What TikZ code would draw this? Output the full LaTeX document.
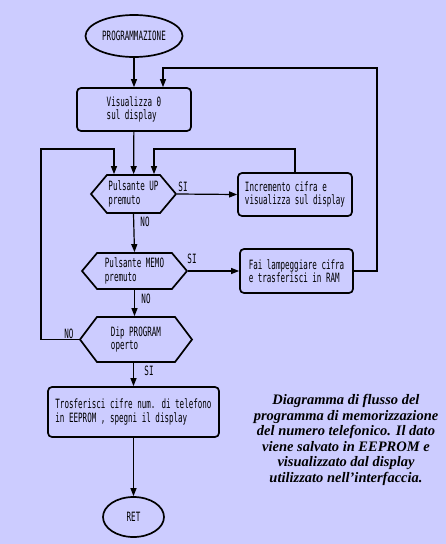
\documentclass[tikz,border=0pt]{standalone}
\usepackage{fontspec}
\usetikzlibrary{shapes.geometric,shapes.symbols,arrows.meta}
\newfontfamily\cadfont[FakeStretch=0.59]{DejaVu Sans Mono}
\newfontfamily\capfont{Liberation Serif}
\definecolor{bg}{RGB}{204,204,255}
\begin{document}
\begin{tikzpicture}[x=1pt,y=-1pt,
 base/.style={draw=black, line width=1.7pt, font=\cadfont\fontsize{12.8}{13.5}\selectfont, inner sep=0pt},
 term/.style={base, ellipse},
 proc/.style={base, rectangle, rounded corners=4pt, align=left},
 dec/.style={base, signal, signal to=west and east, align=left},
 conn/.style={line width=1.2pt, -{Triangle[length=8pt,width=6pt]}},
 wire/.style={line width=1.2pt},
 lbl/.style={font=\cadfont\fontsize{12.8}{13.5}\selectfont, inner sep=0pt}]
\fill[bg] (0,0) rectangle (446,544);
\useasboundingbox (0,0) rectangle (446,544);

\node[term, minimum width=97pt, minimum height=42pt] (prog) at (134,36) {PROGRAMMAZIONE};
\node[proc, minimum width=114pt, minimum height=43pt] (vis) at (134,109.5) {Visualizza 0\\ sul display};
\node[dec, minimum width=85pt, minimum height=38pt, signal pointer angle=100] (up) at (133.5,194) {Pulsante UP\\premuto};
\node[proc, minimum width=114pt, minimum height=43pt] (inc) at (295,194.5) {Incremento cifra e\\visualizza sul display};
\node[dec, minimum width=105pt, minimum height=36pt, signal pointer angle=100] (memo) at (134.5,271) {Pulsante MEMO\\premuto};
\node[proc, minimum width=113pt, minimum height=44pt] (fai) at (296.5,271) {Fai lampeggiare cifra\\e trasferisci in RAM};
\node[dec, minimum width=112pt, minimum height=45pt, signal pointer angle=106] (dip) at (136,339.5) {Dip PROGRAM\\operto};
\node[proc, minimum width=171pt, minimum height=50pt] (tras) at (133.5,412) {Trosferisci cifre num. di telefono\\in EEPROM , spegni il display};
\node[term, minimum width=61pt, minimum height=40pt] (ret) at (133.5,517) {RET};

\coordinate (r1) at (377,68);
\coordinate (v2) at (163,68);
\coordinate (l1) at (41,149);
\coordinate (u1) at (114,149);
\coordinate (u3) at (154,149);

\draw[conn] (prog) -- (vis);
\draw[conn] (vis) -- (up);
\draw[conn] (up.east) -- (inc.west);
\draw[conn] (inc.north) |- (u3) -- (u3 |- up.north);
\draw[conn] (up.south) -- (memo.north);
\draw[conn] (memo.east) -- (fai.west);
\draw[conn] (fai.east) -| (r1) -- (v2) -- (v2 |- vis.north);
\draw[conn] (memo.south) -- (dip.north -| memo.south);
\draw[conn] (dip.west) -| (l1) -- (u1) -- (u1 |- up.north);
\draw[conn] (dip.south -| tras.north) -- (tras.north);
\draw[conn] (tras) -- (ret);

\node[lbl] (si1) at (183,187) {SI};
\node[lbl] (si2) at (192,259) {SI};
\node[lbl] (no1) at (145,222) {NO};
\node[lbl] (no2) at (146,299) {NO};
\node[lbl] (no3) at (69,334) {NO};
\node[lbl] (si3) at (149,371) {SI};

\node[font=\capfont\bfseries\itshape\fontsize{14.5}{15.6}\selectfont, align=center, inner sep=0pt] (cap) at (346,440)
 {Diagramma di flusso del\\programma di memorizzazione\\del numero telefonico. Il dato\\viene salvato in EEPROM e\\visualizzato dal display\\utilizzato nell’interfaccia.};
\end{tikzpicture}
\end{document}
